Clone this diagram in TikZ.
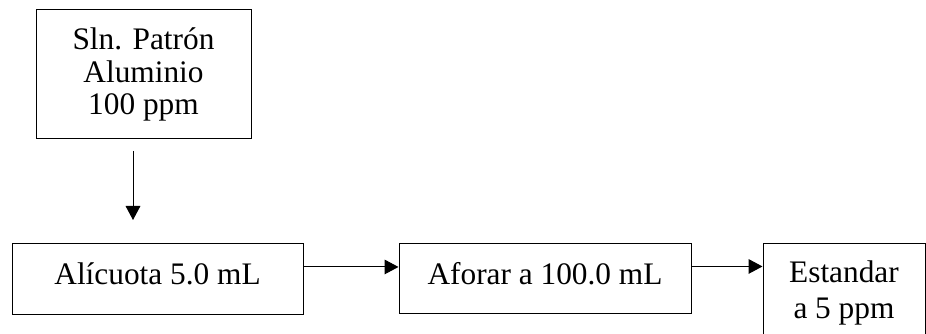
\documentclass[tikz,border=0pt]{standalone}
\usepackage{fontspec}
\setmainfont{Liberation Serif}
\usetikzlibrary{arrows.meta}

\tikzset{
  caja/.style={draw, line width=0.75pt, inner sep=0pt,
    font=\fontsize{23.5}{24.4}\selectfont},
  linea/.style={text height=15.75pt, text depth=7.5pt},
  flecha/.style={line width=0.75pt, -{Triangle[length=10.5pt,width=11pt]}}
}

\begin{document}
\begin{tikzpicture}[x=0.75pt,y=0.75pt,yscale=-1,xscale=1]
\useasboundingbox (0,0) rectangle (926,334);

%Shape: Rectangle [id:patron]
\node (patron) [caja, align=center, minimum width=161.25pt, minimum height=96.75pt] at (143.5,74.5) {Sln. Patrón\\Aluminio\\100 ppm};
%Shape: Rectangle [id:alicuota]
\node (alicuota) [caja, linea, minimum width=218.25pt, minimum height=53.25pt] at (157.5,279.5) {Alícuota 5.0 mL};
%Shape: Rectangle [id:aforar]
\node (aforar) [caja, linea, minimum width=219pt, minimum height=52.5pt] at (545,279) {Aforar a 100.0 mL};
%Shape: Rectangle [id:estandar]
\node (estandar) [caja, align=center, font=\fontsize{23.5}{27}\selectfont, minimum width=121.5pt, minimum height=73.5pt] at (844,293) {Estandar\\a 5 ppm};

%Straight Lines [id:baja]
\coordinate (bajaini) at (133,151);
\coordinate (bajafin) at (133,220);
\draw [flecha] (bajaini) -- (bajafin) ;

%Straight Lines [id:derecha1]
\draw [flecha] ([yshift=-9.4pt]alicuota.east) -- ([yshift=-9.4pt]alicuota.east -| aforar.west) ;
%Straight Lines [id:derecha2]
\draw [flecha] ([yshift=-9.4pt]aforar.east) -- ([yshift=-9.4pt]aforar.east -| estandar.west) ;

\end{tikzpicture}
\end{document}
